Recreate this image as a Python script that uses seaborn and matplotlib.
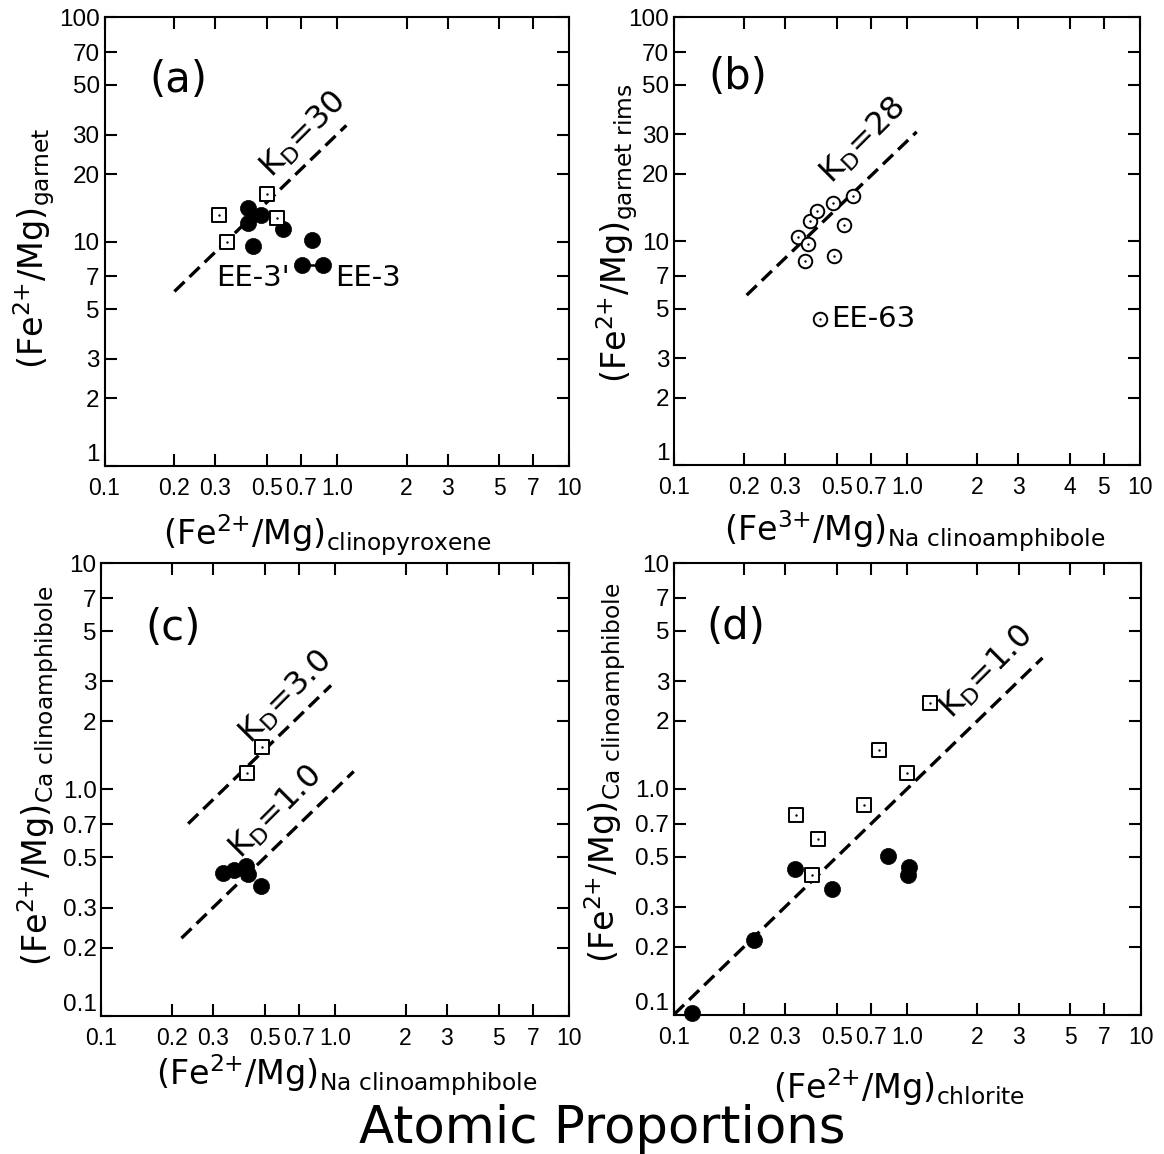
import matplotlib
matplotlib.use("Agg")
import matplotlib.pyplot as plt
import seaborn as sns
import numpy as np

# ---------------- data ----------------
# panel (a): garnet vs clinopyroxene
a_sq_x = [0.312, 0.338, 0.499, 0.553]
a_sq_y = [13.2, 10.0, 16.4, 12.7]
a_dot_x = [0.413, 0.413, 0.471, 0.587, 0.434, 0.780, 0.710, 0.874]
a_dot_y = [14.2, 12.1, 13.1, 11.4, 9.57, 10.2, 7.86, 7.86]
a_tie_x = [0.710, 0.874]
a_tie_y = [7.86, 7.86]
a_kd = 30
a_kd_x = [0.2, 1.1]

# panel (b): garnet rims vs Na clinoamphibole
b_circ_x = [0.340, 0.377, 0.366, 0.382, 0.410, 0.482, 0.584, 0.539, 0.487, 0.424]
b_circ_y = [10.4, 9.72, 8.13, 12.35, 13.6, 14.8, 15.9, 11.8, 8.6, 4.51]
b_kd = 28
b_kd_x = [0.205, 1.1]

# panel (c): Ca clinoamphibole vs Na clinoamphibole
c_sq_x = [0.421, 0.485]
c_sq_y = [1.18, 1.54]
c_dot_x = [0.332, 0.370, 0.417, 0.424, 0.482]
c_dot_y = [0.425, 0.440, 0.460, 0.421, 0.375]
c_kd_hi = 3.0
c_kd_hi_x = [0.235, 0.96]
c_kd_lo = 1.0
c_kd_lo_x = [0.22, 1.2]

# panel (d): Ca clinoamphibole vs chlorite
d_sq_x = [0.333, 0.416, 0.390, 0.653, 0.753, 1.0, 1.25]
d_sq_y = [0.762, 0.598, 0.417, 0.849, 1.49, 1.17, 2.40]
d_dot_x = [0.119, 0.221, 0.330, 0.478, 0.826, 1.01, 1.02]
d_dot_y = [0.102, 0.214, 0.442, 0.358, 0.502, 0.414, 0.452]
d_kd = 1.0
d_kd_x = [0.1, 3.8]

# ticks
ticks_0p1_10 = [0.1, 0.2, 0.3, 0.5, 0.7, 1.0, 2, 3, 5, 7, 10]
labels_0p1_10 = ["0.1", "0.2", "0.3", "0.5", "0.7", "1.0", "2", "3", "5", "7", "10"]
labels_b_x = ["0.1", "0.2", "0.3", "0.5", "0.7", "1.0", "2", "3", "4", "5", "10"]
ticks_1_100 = [1, 2, 3, 5, 7, 10, 20, 30, 50, 70, 100]
labels_1_100 = ["1", "2", "3", "5", "7", "10", "20", "30", "50", "70", "100"]

# ---------------- style ----------------
sns.set_style("ticks")
plt.rcParams["font.family"] = ["DejaVu Sans"]
plt.rcParams["mathtext.fontset"] = "dejavusans"
plt.rcParams["axes.linewidth"] = 1.5
for k in ("text.color", "axes.labelcolor", "xtick.color", "ytick.color", "axes.edgecolor"):
    plt.rcParams[k] = "black"

W, H = 1164, 1154
fig = plt.figure(figsize=(W / 100, H / 100), dpi=100)


def px_axes(left, right, top, bottom):
    return fig.add_axes([left / W, 1 - bottom / H, (right - left) / W, (bottom - top) / H])


ax_a = px_axes(104.5, 569, 17.4, 466)
ax_b = px_axes(674, 1140, 17.4, 465)
ax_c = px_axes(101.4, 569, 563, 1015.7)
ax_d = px_axes(674, 1140.5, 563, 1014.5)

DASH = (0, (4.2, 2.1))
LW = 2.4
XTICKFONT = dict(fontfamily="Liberation Sans", fontsize=16.5)
YTICKFONT = dict(fontfamily="Liberation Sans", fontsize=17.5)
LABFS = 24
SUP2 = r"$^{2{+}}$"
SUP3 = r"$^{3{+}}$"


def setup(ax, xlim, ylim, xt, xl, yt, yl):
    ax.set_xscale("log")
    ax.set_yscale("log")
    ax.set_xlim(*xlim)
    ax.set_ylim(*ylim)
    ax.set_xticks(xt)
    ax.set_xticklabels(xl, **XTICKFONT)
    ax.set_yticks(yt)
    ax.set_yticklabels(yl, **YTICKFONT)
    ax.minorticks_off()
    ax.tick_params(which="major", direction="in", length=8.5, width=1.5,
                   top=True, right=True, color="black")
    ax.tick_params(axis="x", pad=8)
    ax.tick_params(axis="y", pad=3.5)
    for s in ax.spines.values():
        s.set_visible(True)
        s.set_linewidth(1.5)
        s.set_color("black")


def kd_line(ax, kd, xs):
    xs = np.array(xs, dtype=float)
    sns.lineplot(x=xs, y=kd * xs, ax=ax, color="black", lw=LW, linestyle=DASH,
                 estimator=None, sort=False, zorder=2)


def filled(ax, xs, ys):
    sns.scatterplot(x=xs, y=ys, ax=ax, marker="o", s=135, color="black",
                    edgecolor="black", linewidth=0.5, zorder=4, clip_on=False)


def open_marker(ax, xs, ys, marker, s):
    sns.scatterplot(x=xs, y=ys, ax=ax, marker=marker, s=s, facecolor="white",
                    edgecolor="black", linewidth=1.4, zorder=5, clip_on=False)
    sns.scatterplot(x=xs, y=ys, ax=ax, marker="o", s=3, color="black",
                    edgecolor="black", linewidth=0, zorder=6, clip_on=False)


# ---------- panel (a) ----------
setup(ax_a, (0.1, 10), (1, 100), ticks_0p1_10, labels_0p1_10, ticks_1_100, labels_1_100)
kd_line(ax_a, a_kd, a_kd_x)
sns.lineplot(x=a_tie_x, y=a_tie_y, ax=ax_a, color="black", lw=1.8, estimator=None,
             sort=False, zorder=3)
filled(ax_a, a_dot_x, a_dot_y)
open_marker(ax_a, a_sq_x, a_sq_y, "s", 115)
ax_a.text(0.158, 0.86, "(a)", transform=ax_a.transAxes, fontsize=30, ha="center", va="center")
ax_a.text(0.72, 30, r"K$_{\mathrm{D}}$=30", fontsize=23, rotation=45, ha="center", va="center")
ax_a.text(0.436, 6.9, "EE-3'", fontsize=21, ha="center", va="center")
ax_a.text(1.36, 6.9, "EE-3", fontsize=21, ha="center", va="center")
ax_a.set_xlabel("(Fe" + SUP2 + r"/Mg)$_{\mathrm{clinopyroxene}}$", fontsize=LABFS)
ax_a.set_ylabel("(Fe" + SUP2 + r"/Mg)$_{\mathrm{garnet}}$", fontsize=LABFS)
ax_a.xaxis.set_label_coords(0.479, -0.1025)
ax_a.yaxis.set_label_coords(-0.102, 0.486)

# ---------- panel (b) ----------
setup(ax_b, (0.1, 10), (1, 100), ticks_0p1_10, labels_b_x, ticks_1_100, labels_1_100)
kd_line(ax_b, b_kd, b_kd_x)
open_marker(ax_b, b_circ_x, b_circ_y, "o", 95)
ax_b.text(0.137, 0.866, "(b)", transform=ax_b.transAxes, fontsize=30, ha="center", va="center")
ax_b.text(0.648, 28, r"K$_{\mathrm{D}}$=28", fontsize=23, rotation=45, ha="center", va="center")
ax_b.text(0.474, 4.5, "EE-63", fontsize=21, ha="left", va="center")
ax_b.set_xlabel("(Fe" + SUP3 + r"/Mg)$_{\mathrm{Na\ clinoamphibole}}$", fontsize=LABFS)
ax_b.set_ylabel("(Fe" + SUP2 + r"/Mg)$_{\mathrm{garnet\ rims}}$", fontsize=LABFS)
ax_b.xaxis.set_label_coords(0.517, -0.098)
ax_b.yaxis.set_label_coords(-0.073, 0.518)

# ---------- panel (c) ----------
setup(ax_c, (0.1, 10), (0.1, 10), ticks_0p1_10, labels_0p1_10, ticks_0p1_10, labels_0p1_10)
kd_line(ax_c, c_kd_hi, c_kd_hi_x)
kd_line(ax_c, c_kd_lo, c_kd_lo_x)
filled(ax_c, c_dot_x, c_dot_y)
open_marker(ax_c, c_sq_x, c_sq_y, "s", 115)
ax_c.text(0.153, 0.856, "(c)", transform=ax_c.transAxes, fontsize=30, ha="center", va="center")
ax_c.text(0.615, 2.56, r"K$_{\mathrm{D}}$=3.0", fontsize=23, rotation=45, ha="center", va="center")
ax_c.text(0.557, 0.794, r"K$_{\mathrm{D}}$=1.0", fontsize=23, rotation=45, ha="center", va="center")
ax_c.set_xlabel("(Fe" + SUP2 + r"/Mg)$_{\mathrm{Na\ clinoamphibole}}$", fontsize=LABFS)
ax_c.set_ylabel("(Fe" + SUP2 + r"/Mg)$_{\mathrm{Ca\ clinoamphibole}}$", fontsize=LABFS)
ax_c.xaxis.set_label_coords(0.525, -0.080)
ax_c.yaxis.set_label_coords(-0.086, 0.529)

# ---------- panel (d) ----------
setup(ax_d, (0.1, 10), (0.1, 10), ticks_0p1_10, labels_0p1_10, ticks_0p1_10, labels_0p1_10)
kd_line(ax_d, d_kd, d_kd_x)
filled(ax_d, d_dot_x, d_dot_y)
open_marker(ax_d, d_sq_x, d_sq_y, "s", 115)
ax_d.text(0.133, 0.858, "(d)", transform=ax_d.transAxes, fontsize=30, ha="center", va="center")
ax_d.text(2.2, 3.29, r"K$_{\mathrm{D}}$=1.0", fontsize=23, rotation=45, ha="center", va="center")
ax_d.set_xlabel("(Fe" + SUP2 + r"/Mg)$_{\mathrm{chlorite}}$", fontsize=LABFS)
ax_d.set_ylabel("(Fe" + SUP2 + r"/Mg)$_{\mathrm{Ca\ clinoamphibole}}$", fontsize=LABFS)
ax_d.xaxis.set_label_coords(0.482, -0.114)
ax_d.yaxis.set_label_coords(-0.099, 0.535)

for ax in (ax_a, ax_b, ax_c, ax_d):
    leg = ax.get_legend()
    if leg is not None:
        leg.remove()
    # lift the lowest y tick label slightly so it clears the first x tick label
    ylabels = ax.get_yticklabels()
    ylabels[0].set_verticalalignment("bottom")

fig.text(602 / W, 1 - 1143 / H, "Atomic Proportions", fontsize=37, ha="center", va="baseline")

fig.savefig("out.png", dpi=100, facecolor="white")
